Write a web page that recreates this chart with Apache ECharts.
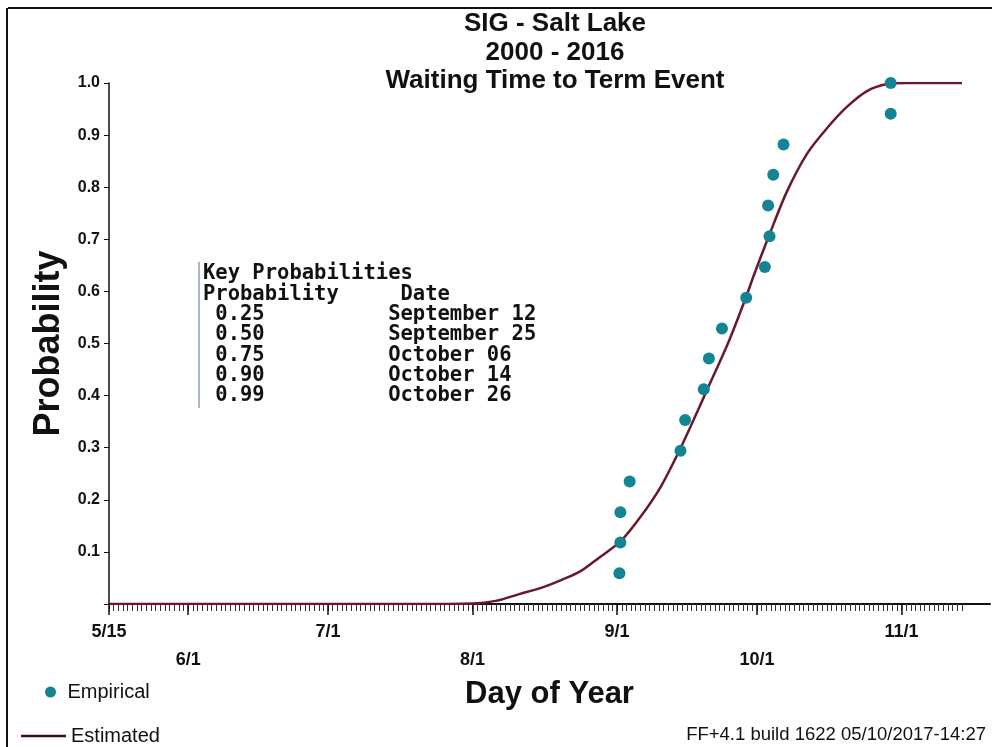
<!DOCTYPE html>
<html lang="en">
<head>
    <meta charset="UTF-8">
    <script src="https://cdn.jsdelivr.net/npm/echarts@6/dist/echarts.min.js"></script>
    <title>SIG - Salt Lake</title>
    <style>
        html, body { margin: 0; padding: 0; background: #ffffff; }
        #chart { width: 992px; height: 747px; }
    </style>
</head>
<body>
<div id="chart"></div>

<script>
    // day-of-year values
    const empDays = [244.5, 244.7, 244.7, 246.7, 257.6, 258.6, 262.6, 263.7, 266.5, 271.7, 275.7, 276.7, 276.4, 277.5, 279.7, 302.7, 302.7];
    const empProb = [0.059, 0.118, 0.176, 0.235, 0.294, 0.353, 0.412, 0.471, 0.529, 0.588, 0.647, 0.706, 0.765, 0.824, 0.882, 0.941, 1.0];

    const estDays = [135, 200, 213, 218, 223, 228, 232, 236, 240, 244.7, 249, 253.3, 256.9, 260.4, 263.3, 268, 271.7, 273.3, 276.9, 280.5, 284.8, 289.1, 293.4, 297.7, 302, 306, 318];
    const estProb = [0, 0, 0.001, 0.006, 0.019, 0.032, 0.046, 0.062, 0.088, 0.12, 0.167, 0.224, 0.286, 0.353, 0.411, 0.505, 0.59, 0.63, 0.714, 0.793, 0.865, 0.914, 0.955, 0.985, 0.998, 1.0, 1.0];

    const tickDays = [135, 152, 182, 213, 244, 274, 305];
    const tickLabels = ['5/15', '6/1', '7/1', '8/1', '9/1', '10/1', '11/1'];

    const keyProbs = ['0.25', '0.50', '0.75', '0.90', '0.99'];
    const keyDates = ['September 12', 'September 25', 'October 06', 'October 14', 'October 26'];

    // daily minor ticks along the x axis
    const dayTicks = [];
    for (let d = 135; d <= 318; d++) dayTicks.push(d);

    const keyText = ['Key Probabilities', 'Probability     Date']
        .concat(keyProbs.map((p, i) => ' ' + p + '          ' + keyDates[i]))
        .join('\n');

    const chart = echarts.init(document.getElementById('chart'));

    const option = {
        animation: false,
        backgroundColor: '#ffffff',
        title: {
            text: 'SIG - Salt Lake\n2000 - 2016\nWaiting Time to Term Event',
            left: 550,
            top: 5,
            textAlign: 'center',
            textStyle: {
                fontFamily: 'Liberation Sans',
                fontSize: 26,
                fontWeight: 'bold',
                lineHeight: 28.5,
                color: '#111'
            }
        },
        legend: [{
            data: [{ name: 'Empirical', icon: 'circle' }],
            left: 40,
            top: 677,
            itemWidth: 24,
            itemHeight: 11,
            textStyle: { fontFamily: 'Liberation Sans', fontSize: 20, color: '#111' }
        }, {
            data: [{ name: 'Estimated', icon: 'rect' }],
            left: 16,
            top: 721,
            itemWidth: 45,
            itemHeight: 2.5,
            textStyle: { fontFamily: 'Liberation Sans', fontSize: 20, color: '#111' }
        }],
        grid: {
            left: 109,
            right: 2,
            top: 83,
            bottom: 143
        },
        xAxis: [{
            type: 'value',
            min: 135,
            max: 324,
            name: 'Day of Year',
            nameLocation: 'middle',
            nameGap: 72,
            nameTextStyle: { fontFamily: 'Liberation Sans', fontSize: 31, fontWeight: 'bold', color: '#111' },
            axisLine: { lineStyle: { color: '#111', width: 2 } },
            axisTick: { customValues: dayTicks, length: 7, lineStyle: { color: '#333', width: 1 } },
            axisLabel: {
                customValues: tickDays,
                margin: 14,
                fontFamily: 'Liberation Sans',
                fontSize: 18,
                fontWeight: 'bold',
                color: '#111',
                lineHeight: 28,
                formatter: v => {
                    const i = tickDays.indexOf(v);
                    return i % 2 === 1 ? '\n' + tickLabels[i] : tickLabels[i];
                }
            },
            splitLine: { show: false }
        }, {
            type: 'value',
            min: 135,
            max: 324,
            position: 'bottom',
            axisLine: { show: false },
            axisTick: { customValues: tickDays, length: 11, lineStyle: { color: '#111', width: 1.5 } },
            axisLabel: { show: false },
            splitLine: { show: false }
        }],
        yAxis: {
            type: 'value',
            min: 0,
            max: 1,
            interval: 0.1,
            name: 'Probability',
            nameLocation: 'middle',
            nameRotate: 90,
            nameGap: 42,
            nameTextStyle: { fontFamily: 'Liberation Sans', fontSize: 36, fontWeight: 'bold', color: '#111' },
            axisLine: { show: true, lineStyle: { color: '#111', width: 1.5 } },
            axisTick: { show: true, length: 5, lineStyle: { color: '#111' } },
            axisLabel: {
                margin: 9,
                fontFamily: 'Liberation Sans',
                fontSize: 16,
                fontWeight: 'bold',
                color: '#111',
                formatter: v => (v === 0 ? '' : v.toFixed(1))
            },
            splitLine: { show: false }
        },
        series: [{
            name: 'Estimated',
            type: 'line',
            data: estDays.map((d, i) => [d, estProb[i]]),
            smooth: 0.3,
            symbol: 'none',
            z: 3,
            lineStyle: { color: '#6a1730', width: 2.5 },
            itemStyle: { color: '#3a0d1a' }
        }, {
            name: 'Empirical',
            type: 'scatter',
            data: empDays.map((d, i) => [d, empProb[i]]),
            symbolSize: 12,
            z: 4,
            itemStyle: { color: '#138592', opacity: 1 }
        }],
        graphic: [
            { type: 'line', shape: { x1: 8, y1: 8, x2: 992, y2: 8 }, style: { stroke: '#111', lineWidth: 2 } },
            { type: 'line', shape: { x1: 7, y1: 8, x2: 7, y2: 747 }, style: { stroke: '#111', lineWidth: 2 } },
            { type: 'line', shape: { x1: 199, y1: 262, x2: 199, y2: 408 }, style: { stroke: '#a9b6c4', lineWidth: 2 } },
            {
                type: 'text',
                x: 203,
                y: 264,
                style: {
                    text: keyText,
                    font: 'bold 20.5px "DejaVu Sans Mono"',
                    lineHeight: 20.3,
                    fill: '#111',
                    verticalAlign: 'top'
                }
            },
            {
                type: 'text',
                right: 6,
                top: 725,
                style: {
                    text: 'FF+4.1 build 1622 05/10/2017-14:27',
                    font: '18.5px "Liberation Sans"',
                    fill: '#111'
                }
            }
        ]
    };

    chart.setOption(option);
</script>
</body>
</html>
